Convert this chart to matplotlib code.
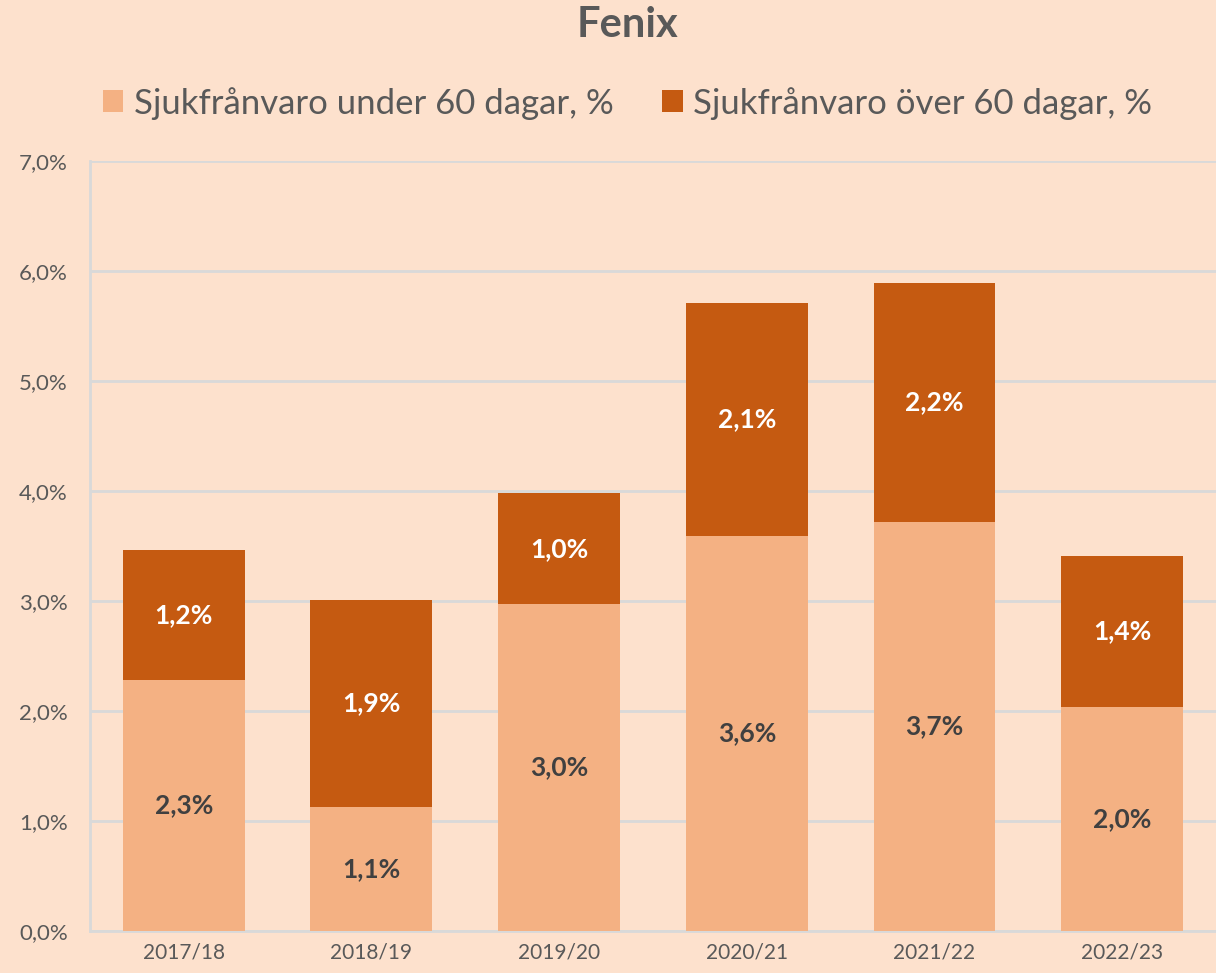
import matplotlib
matplotlib.use('Agg')
import matplotlib.pyplot as plt
import numpy as np

plt.rcParams['font.family'] = ['Lato', 'DejaVu Sans']

# data
years = ['2017/18', '2018/19', '2019/20', '2020/21', '2021/22', '2022/23']
under_60 = [2.28, 1.13, 2.97, 3.59, 3.72, 2.04]
over_60 = [1.18, 1.88, 1.01, 2.12, 2.17, 1.37]
series_names = ['Sjukfrånvaro under 60 dagar, %', 'Sjukfrånvaro över 60 dagar, %']
yticks = [0, 1, 2, 3, 4, 5, 6, 7]

bg = '#FDE1CD'
light = '#F4B183'
dark = '#C55A11'
grid_col = '#D9D9D9'
text_col = '#595959'

fig = plt.figure(figsize=(12.16, 9.73), dpi=100, facecolor=bg)
ax = fig.add_axes([0.074, 0.0432, 0.926, 0.7913])
ax.set_facecolor(bg)

x = np.arange(len(years))
w = 0.65
b1 = ax.bar(x, under_60, width=w, color=light, label=series_names[0], zorder=3)
b2 = ax.bar(x, over_60, width=w, bottom=under_60, color=dark, label=series_names[1], zorder=3)

def fmt(v):
    return ('%.1f%%' % v).replace('.', ',')

# labels in the middle of each segment
for i in range(len(years)):
    ax.text(x[i], under_60[i] / 2, fmt(under_60[i]), ha='center', va='center',
            fontsize=19, fontweight='bold', color='#404040', zorder=4)
    ax.text(x[i], under_60[i] + over_60[i] / 2, fmt(over_60[i]), ha='center', va='center',
            fontsize=19, fontweight='bold', color='white', zorder=4)

ax.set_xlim(-0.5, len(years) - 0.5)
ax.set_ylim(0, 7)
ax.set_yticks(yticks)
ax.set_yticklabels([fmt(v) for v in yticks])
ax.set_xticks(x)
ax.set_xticklabels(years)
ax.tick_params(axis='both', length=0, labelsize=15, labelcolor=text_col)
ax.tick_params(axis='y', pad=16, labelsize=16)
ax.tick_params(axis='x', pad=8)

ax.yaxis.grid(True, color=grid_col, linewidth=2, zorder=0)
for s in ['top', 'right']:
    ax.spines[s].set_visible(False)
for s in ['left', 'bottom']:
    ax.spines[s].set_color(grid_col)
    ax.spines[s].set_linewidth(2)

fig.text(0.516, 0.974, 'Fenix', ha='center', va='center', fontsize=30,
         fontweight='bold', color=text_col)

fig.legend(handles=[b1, b2], labels=series_names, loc='center', bbox_to_anchor=(0.516, 0.894),
           ncol=2, frameon=False, fontsize=25, labelcolor=text_col,
           handlelength=0.6, handleheight=0.6, handletextpad=0.3, columnspacing=1.4)

plt.savefig('out.png', dpi=100, facecolor=bg)
